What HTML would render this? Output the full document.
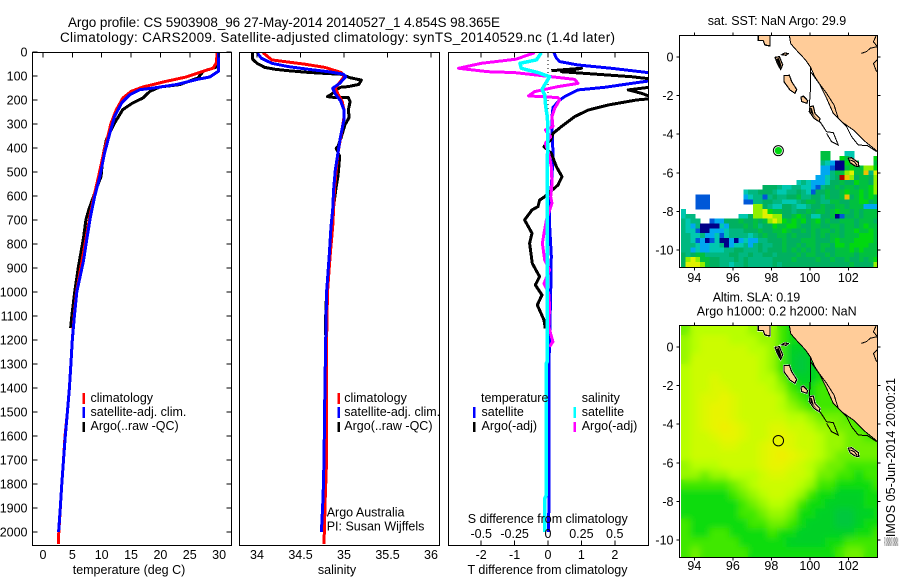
<!DOCTYPE html>
<html lang="en">
<head>
<meta charset="utf-8">
<title>Argo profile CS 5903908_96</title>
<style>
html,body{margin:0;padding:0;background:#fff;width:900px;height:580px;overflow:hidden}
svg{display:block}
text{font-family:"Liberation Sans",sans-serif;font-size:12.5px;fill:#000}
.t{font-size:13.5px}
</style>
</head>
<body>
<svg id="fig" xmlns="http://www.w3.org/2000/svg" width="900" height="580" viewBox="0 0 900 580">
<defs>
<clipPath id="cp1"><rect x="32.5" y="52.5" width="199" height="493"/></clipPath>
<clipPath id="cp2"><rect x="239.5" y="52.5" width="200" height="493"/></clipPath>
<clipPath id="cp3"><rect x="448.5" y="52.5" width="200" height="493"/></clipPath>
<clipPath id="cpm1"><rect x="679.5" y="35.5" width="198" height="232"/></clipPath>
<clipPath id="cpm2"><rect x="681" y="325.5" width="196.5" height="232"/></clipPath>
<filter id="slaSmooth" x="670" y="315" width="220" height="255" filterUnits="userSpaceOnUse"><feGaussianBlur stdDeviation="3.4"/></filter>
</defs>
<text class="t" x="68" y="27" textLength="432">Argo profile: CS 5903908_96 27-May-2014 20140527_1 4.854S 98.365E</text>
<text class="t" x="60" y="42" textLength="555">Climatology: CARS2009. Satellite-adjusted climatology: synTS_20140529.nc (1.4d later)</text>
<g id="p1"></g>
<g id="p2"></g>
<g id="p3"></g>
<g id="m1"></g>
<g id="m2"></g>

<g>
<rect x="82.5" y="393" width="2.5" height="11" fill="#f00"/>
<rect x="82.5" y="407" width="2.5" height="11" fill="#00f"/>
<rect x="82.5" y="422" width="2.5" height="10" fill="#000"/>
<text x="90.5" y="402">climatology</text>
<text x="90.5" y="416">satellite-adj. clim.</text>
<text x="90.5" y="430">Argo(..raw -QC)</text>
</g>
<g>
<rect x="337.5" y="393" width="2.5" height="11" fill="#f00"/>
<rect x="337.5" y="407" width="2.5" height="11" fill="#00f"/>
<rect x="337.5" y="422" width="2.5" height="10" fill="#000"/>
<text x="344.3" y="402">climatology</text>
<text x="344.3" y="416">satellite-adj. clim.</text>
<text x="344.3" y="430">Argo(..raw -QC)</text>
</g>
<text x="326.7" y="516.5">Argo Australia</text>
<text x="326.7" y="530.5">PI: Susan Wijffels</text>
<g>
<text x="481" y="402">temperature</text>
<text x="581.7" y="402">salinity</text>
<rect x="473" y="407" width="2.5" height="11" fill="#00f"/>
<rect x="473" y="422" width="2.5" height="10" fill="#000"/>
<rect x="573.5" y="407" width="2.5" height="11" fill="#0ff"/>
<rect x="573.5" y="422" width="2.5" height="10" fill="#f0f"/>
<text x="481.5" y="416">satellite</text>
<text x="481.5" y="430">Argo(-adj)</text>
<text x="581.7" y="416">satellite</text>
<text x="581.7" y="430">Argo(-adj)</text>
</g>
<text x="467.7" y="523" textLength="160">S difference from climatology</text>
<text x="467.5" y="574" textLength="160">T difference from climatology</text>
<text x="129" y="574" text-anchor="middle">temperature (deg C)</text>
<text x="337" y="574" text-anchor="middle">salinity</text>
<text x="707.7" y="25" textLength="138.5">sat. SST: NaN Argo: 29.9</text>
<text x="712.7" y="301.5" textLength="87.5">Altim. SLA: 0.19</text>
<text x="696.7" y="315.5" textLength="160">Argo h1000: 0.2 h2000: NaN</text>
<text transform="translate(895 546) rotate(-90)" style="font-family:'Liberation Sans','DejaVu Sans',sans-serif" textLength="168">▒IMOS 05-Jun-2014 20:00:21</text>
</svg>
<script>
// ---- profile data: depth (dbar) and values ----
const depthTicks = [0,100,200,300,400,500,600,700,800,900,1000,1100,1200,1300,1400,1500,1600,1700,1800,1900,2000];
const tempTicks = [0,5,10,15,20,25,30];
const salTicks = [34,34.5,35,35.5,36];
const salTickLabels = ['34','34.5','35','35.5','36'];
const tDiffTicks = [-2,-1,0,1,2];
const sDiffTicks = [-0.5,-0.25,0,0.25,0.5];
const sDiffLabels = ['-0.5','-0.25','0','0.25','0.5'];

const climTempDepth = [0,46,67,85,104,122,146,164,192,240,296,365,435,525,588,671,754,850,1000,1100,1200,1300,1400,1500,1600,1700,1800,1900,2000,2050];
const climTemp = [29.7,29.5,29,26.7,24.4,21,17,15,13.6,12.5,11.6,10.9,10.2,9.4,8.8,8.1,7.5,6.8,5.7,5.3,5.0,4.75,4.5,4.15,3.75,3.5,3.2,2.95,2.7,2.6];
const satTempDepth = [0,80,104,115,136,150,157,178,212,268,337,420,518,601,685,775,870,1000,1100,1200,1300,1400,1500,1600,1700,1800,1900,2000];
const satTemp = [29.9,29.9,28.4,26.1,22.7,18.8,16.5,14.8,13.4,12.2,11.4,10.5,9.7,8.8,8.1,7.5,6.9,5.75,5.35,5.0,4.75,4.5,4.15,3.8,3.5,3.2,2.95,2.65];
const argoTempDepth = [0,60,67,80,108,136,146,164,192,212,240,296,365,435,518,588,657,699,775,900,1000,1100,1150];
const argoTemp = [29.8,29.8,29,27.3,26.4,23.3,19.9,18.2,17,15.3,13.6,12.2,10.8,10.2,9.9,8.8,7.8,7.3,6.9,6.0,5.4,4.9,4.7];

const argoSalDepth = [3,30,47,64,72,78,85,89,93,107,117,135,144,147,158,175,186,190,190,207,242,272,304,353,394,401,436,478,519,561,617,644,728,850,1000,1100,1180];
const argoSal = [33.95,33.95,34.0,34.09,34.21,34.36,34.59,34.78,34.97,35.07,35.20,35.17,35.05,34.96,34.91,34.86,34.81,34.90,35.05,35.07,35.05,35.06,35.01,34.97,34.93,34.91,34.95,34.94,34.93,34.91,34.89,34.88,34.86,34.83,34.80,34.79,34.79];
const climSalDepth = [3,33,40,51,64,86,103,137,151,175,207,242,272,339,422,492,575,658,728,850,1000,1200,1400,1700,1850,2050];
const climSal = [34.07,34.17,34.32,34.55,34.78,34.97,35.0,34.93,34.90,34.93,34.98,35.0,35.0,34.97,34.93,34.91,34.89,34.88,34.87,34.84,34.81,34.80,34.80,34.80,34.785,34.77];
const satSalDepth = [3,26,47,61,72,82,92,103,131,151,175,203,242,283,353,422,492,575,658,728,850,1000,1200,1400,1700,1850,2000];
const satSal = [34.0,34.05,34.17,34.36,34.59,34.82,34.99,35.02,34.95,34.87,34.90,34.96,35.0,35.0,34.96,34.93,34.90,34.88,34.87,34.85,34.83,34.80,34.79,34.78,34.77,34.76,34.74];

const satDTDepth = [3,26,40,54,68,89,117,131,147,158,186,200,231,269,325,422,519,589,630,728,850,1000,1300,1600,2000];
const satDT = [.18,.25,.35,.9,1.9,3.2,3.2,2.5,1.7,.9,.5,.35,.15,.12,.12,.15,.12,.08,.05,.05,.1,.08,.03,.03,.02];
const argoDTDepth = [78,68,82,92,103,114,144,158,172,193,200,221,242,269,311,339,367,394,422,478,519,554,603,617,644,658,700,755,797,881,936,971,1012,1054,1117,1152];
const argoDT = [.1,1,.4,1.4,2.5,3.2,3.2,2.4,2.8,3.2,2.65,1.8,1.2,.8,.4,.15,.08,-.12,.1,.25,.42,.3,-.1,-.25,-.3,-.48,-.7,-.48,-.55,-.47,-.25,-.38,-.18,-.32,-.12,-.08];
const argoDSDepth = [3,30,47,68,82,86,103,114,131,144,165,183,190,200,235,269,311,325,353,381,422,478,547,603,630,700,755,797,867,908,964,1005,1061,1144,1207,1228];
const argoDS = [-.1,-.24,-.5,-.67,-.45,-.25,.025,.2,.225,.075,-.1,-.145,.075,.087,.05,.03,.037,-.02,.02,-.02,.005,.025,.03,.02,.03,-.012,-.03,-.042,-.025,.012,-.03,.005,.012,.005,.037,.012];
const satDSDepth = [3,33,47,68,86,103,137,155,179,228,269,325,464,742,1290,1300,1850,1860,2000];
const satDS = [-.05,-.087,-.21,-.2,-.075,.012,-.025,-.045,-.025,-.017,-.005,0,-.005,-.005,-.005,-.015,-.015,-.025,-.025];

// ---- map data ----
const lonTicks = [94,96,98,100,102];
const latTicks = [0,-2,-4,-6,-8,-10];
const argoLon = 98.365;
const argoLat = -4.854;

const sstPalette = ['none','#000088','#0058d8','#00a8f0','#00c8b0','#00b880','#00b060','#00c040','#00d810','#90f000','#e0f000','#f0c000','#b00000'];
// SST colour level per 0.25 degree cell, first row at 4.875S
const sstRows = [
[0,0,0,0,0,0,0,0,0,0,0,0,0,0,0,0,0,0,0,0,0,0,0,0,0,0,0,0,0,7,7,0,0,0,4,4,0,0,0,0,0],
[0,0,0,0,0,0,0,0,0,0,0,0,0,0,0,0,0,0,0,0,0,0,0,0,0,0,0,0,0,7,7,0,0,8,7,4,0,0,0,0,8],
[0,0,0,0,0,0,0,0,0,0,0,0,0,0,0,0,0,0,0,0,0,0,0,0,0,0,0,0,0,5,4,3,1,1,8,7,7,0,0,0,7],
[0,0,0,0,0,0,0,0,0,0,0,0,0,0,0,0,0,0,0,0,0,0,0,0,0,0,0,0,0,3,3,2,1,1,7,8,7,7,9,9,8],
[0,0,0,0,0,0,0,0,0,0,0,0,0,0,0,0,0,0,0,0,0,0,0,0,0,0,0,0,0,3,3,5,7,7,9,10,7,7,11,5,10],
[0,0,0,0,0,0,0,0,0,0,0,0,0,0,0,0,0,0,0,0,0,0,0,0,0,0,0,0,3,3,4,5,6,12,11,9,6,7,7,6,9],
[0,0,0,0,0,0,0,0,0,0,0,0,0,0,0,0,0,0,0,0,0,0,0,0,4,5,4,3,3,3,4,6,6,7,6,6,8,7,7,6,9],
[0,0,0,0,0,0,0,0,0,0,0,0,0,0,0,0,0,6,6,6,5,4,4,5,5,4,4,3,2,5,6,6,7,6,7,7,6,7,7,8,9],
[0,0,0,0,0,0,0,0,0,0,0,0,0,4,5,5,6,6,6,5,4,4,5,5,6,5,4,2,6,6,7,6,6,7,8,7,7,8,7,8,9],
[0,0,0,2,2,2,0,0,0,0,0,0,0,3,4,5,5,2,5,6,5,5,6,6,7,5,5,6,6,5,7,6,6,7,11,6,7,8,7,8,7],
[0,0,0,2,2,2,0,0,0,0,0,0,0,2,2,5,5,6,6,5,5,4,4,4,5,6,7,7,6,5,5,7,7,6,6,7,7,8,8,6,7],
[0,0,0,2,2,2,0,0,0,0,0,0,0,0,0,9,9,6,5,4,4,6,6,5,4,4,5,6,6,7,6,6,7,7,6,7,7,7,3,3,3],
[4,0,0,0,0,0,0,0,0,0,0,0,0,0,0,9,9,10,8,7,7,6,6,5,6,6,7,6,7,7,6,7,8,7,7,6,7,6,7,7,7],
[4,5,5,0,0,0,0,0,0,0,0,0,4,4,6,9,9,10,10,9,9,6,6,7,8,7,6,4,4,6,6,7,1,2,6,6,7,6,7,7,7],
[5,4,5,5,0,0,2,3,3,6,6,6,7,6,6,7,6,7,9,10,9,8,7,8,7,8,6,7,8,6,7,6,6,7,7,7,6,7,7,7,6],
[5,4,3,5,1,1,1,1,4,3,6,6,6,7,6,7,5,6,6,8,7,7,8,8,7,6,6,7,7,6,6,7,7,6,7,7,6,7,8,7,7],
[5,4,4,2,1,1,3,3,3,4,5,5,5,6,6,6,7,6,6,7,7,8,7,6,6,7,6,7,6,7,7,6,7,6,7,7,8,7,7,8,7],
[5,5,4,4,5,3,3,4,2,4,5,5,5,5,4,5,6,7,6,6,7,7,6,7,6,6,6,7,6,7,6,7,7,6,7,7,7,8,8,8,7],
[5,5,4,2,3,1,2,4,1,1,3,1,3,4,3,3,5,5,6,6,6,7,6,6,6,7,7,7,6,6,6,7,8,7,7,7,8,8,8,8,7],
[5,5,5,4,3,3,4,4,5,1,3,4,4,5,3,5,6,5,5,6,6,7,6,6,7,6,7,7,6,7,7,6,8,8,7,8,8,8,8,7,7],
[5,5,3,4,3,3,4,4,4,5,5,6,6,5,5,5,6,5,6,6,6,7,6,7,6,7,6,7,6,7,6,6,7,7,7,8,7,8,7,7,7],
[6,5,6,7,7,5,5,5,5,5,6,6,5,5,6,5,5,6,6,5,6,6,6,6,7,6,7,7,6,6,7,6,7,7,7,7,6,7,7,7,7],
[6,9,10,9,7,7,6,6,5,5,5,6,5,6,5,5,5,5,5,6,6,6,6,7,6,6,6,6,7,6,6,7,6,6,7,6,6,7,6,7,8],
[6,10,10,10,9,7,6,6,5,5,4,5,5,6,5,5,5,5,5,6,5,6,6,6,6,6,6,6,6,6,6,6,6,6,6,7,6,6,6,6,9]
];

const slaPalette = ['#00c83c','#00d028','#10dc10','#40e800','#70f000','#98f800','#b8ff00','#ccfc00','#dcf800','#e8f400','#f0ee00'];
// SLA colour level per 0.5 degree cell, first row at 1.125N
const slaRows = [
[4,6,6,6,6,6,6,5,5,5,3,2,1,1,1,1,1,1,1,1,1],
[5,6,7,7,7,6,6,6,5,5,3,2,2,2,2,1,1,1,1,1,1],
[5,6,7,7,7,7,7,6,6,5,3,1,1,1,1,1,1,1,1,1,1],
[5,7,7,7,7,7,7,7,6,5,3,1,0,1,2,2,1,1,1,1,1],
[6,7,7,7,7,7,7,7,6,5,3,1,0,1,2,3,3,1,1,1,1],
[6,7,7,8,7,7,7,7,6,6,4,2,1,1,2,3,3,2,1,1,1],
[6,7,7,8,8,7,7,7,7,6,5,3,2,2,3,3,3,2,1,1,1],
[6,7,8,8,9,8,7,7,7,7,6,4,3,2,3,3,3,3,2,1,1],
[6,7,8,9,9,8,7,7,7,7,6,5,4,3,3,3,3,3,3,2,1],
[6,7,8,9,9,8,7,7,7,7,7,6,6,5,4,4,4,3,3,3,2],
[6,7,8,9,10,9,8,7,7,8,8,7,7,6,5,5,4,4,3,3,3],
[6,7,7,8,9,9,8,7,7,8,9,8,7,7,6,5,5,4,4,3,3],
[6,7,7,7,8,8,7,7,8,9,9,8,7,7,6,5,5,4,4,4,4],
[6,7,7,7,7,7,7,7,8,9,10,9,8,7,6,5,4,4,4,4,4],
[5,6,6,6,7,7,7,7,8,9,9,8,7,6,5,4,4,3,3,3,3],
[5,5,4,5,5,6,6,6,7,8,8,7,7,6,4,4,3,3,2,3,3],
[3,3,3,3,3,4,5,6,7,7,7,7,6,5,3,3,2,2,2,2,3],
[2,2,2,2,2,3,4,5,6,7,7,6,5,3,2,2,1,1,1,2,2],
[2,2,2,2,2,2,3,4,5,6,6,5,3,2,2,1,1,1,1,2,2],
[2,2,2,2,2,2,3,3,4,5,5,4,2,2,1,1,0,0,1,1,2],
[3,2,2,2,2,2,2,3,3,4,4,3,2,1,1,1,0,0,1,2,2],
[3,2,2,3,3,2,2,2,2,3,2,2,1,1,1,1,1,1,2,2,3],
[3,3,3,3,3,3,2,2,2,2,2,1,1,1,1,2,2,3,3,3,3],
[3,4,3,3,3,3,3,2,2,2,2,2,2,2,2,2,3,4,4,3,3]
];

// coastlines in [lon, lat]
const mainland = [[98.94,1.3],[98.94,1.12],[99.0,.71],[99.14,.535],[99.4,.25],[99.78,-.155],[100.04,-.535],[100.25,-1],[100.53,-1.45],[100.87,-2.14],[101.22,-2.92],[101.65,-3.35],[102.26,-3.78],[102.78,-4.3],[103.52,-4.9],[103.9,-4.9],[103.9,1.3]];
const islands = [
[[97.32,1.3],[97.32,.85],[97.58,.85],[97.67,.62],[97.93,.57],[97.93,1.3]],
[[98.54,.12],[98.71,.21],[98.87,.17],[98.76,.09]],
[[98.19,-.02],[98.42,.02],[98.59,-.41],[98.48,-.64],[98.31,-.33]],
[[98.66,-.97],[98.94,-.95],[99.06,-1.28],[99.32,-1.68],[99.23,-1.88],[98.97,-1.71],[98.66,-1.28]],
[[99.54,-2.09],[99.66,-2.02],[99.89,-2.26],[99.84,-2.4],[99.58,-2.31]],
[[100.01,-2.57],[100.18,-2.54],[100.27,-2.92],[100.53,-3.18],[100.49,-3.35],[100.22,-3.18],[99.97,-2.83]],
[[102.0,-5.25],[102.17,-5.22],[102.52,-5.47],[102.55,-5.68],[102.35,-5.65],[102.09,-5.47]]
];
const darkIslands = [
[[98.25,-.1],[98.4,-.05],[98.52,-.42],[98.46,-.6],[98.34,-.32]],
[[100.02,-2.65],[100.1,-2.65],[100.2,-3.0],[100.4,-3.25],[100.25,-3.1],[100.03,-2.85]]
];
const coastLines = [
[[100.04,-.535],[100.04,-1.54],[99.97,-2.57]],
[[100.04,-.76],[100.35,-1.19],[100.87,-1.88],[101.26,-2.49],[101.48,-3.18],[101.91,-3.61],[102.17,-4.13],[102.52,-4.56],[102.99,-4.59],[103.47,-4.9]],
[[100.53,-3.35],[100.87,-3.87],[101.22,-3.92],[101.48,-4.56],[101.13,-4.39],[100.87,-3.96]],
[[103.44,1.09],[103.3,.79],[103.51,.54],[103.13,.45],[102.95,.28],[102.69,.19]],
[[103.52,-.12],[103.3,-.33],[103.47,-.76]],
[[102.1,-5.33],[102.3,-5.42],[102.45,-5.6]]
];

// ---- axis functions ----
function yDepth(d){return 52+d*0.24;}
function xTemp(t){return 43+t*5.87;}
function xSal(s){return 257+(s-34)*87;}
function xDT(t){return 548+t*33.4;}
function xDS(s){return 548+s*133.5;}
function xLon(l){return 694.33+(l-94)*19.25;}
function yLat(l,y0){return y0-l*19.3;}

const NS='http://www.w3.org/2000/svg';
function mk(tag,attrs,parent){
  const e=document.createElementNS(NS,tag);
  for(const k in attrs)e.setAttribute(k,attrs[k]);
  parent.appendChild(e);
  return e;
}
function tick(parent,x1,y1,x2,y2){
  const el=mk('line',{x1:x1,y1:y1,x2:x2,y2:y2,stroke:'#000','stroke-width':1,'shape-rendering':'crispEdges'},parent);
  
  
}
function label(parent,x,y,txt,anchor){
  const el=mk('text',{x:x,y:y,'text-anchor':anchor},parent);
  el.textContent=txt;
  
  
}
function frame(parent,x,y,w,h){
  const el=mk('rect',{x:x,y:y,width:w,height:h,fill:'none',stroke:'#000','stroke-width':1,'shape-rendering':'crispEdges'},parent);
  
  
}
function profile(parent,clip,vals,depths,xf,color,width,name){
  const pts=vals.map((v,i)=>xf(v).toFixed(1)+','+yDepth(depths[i]).toFixed(1)).join(' ');
  const el=mk('polyline',{points:pts,fill:'none',stroke:color,'stroke-width':width,'stroke-linejoin':'round','clip-path':'url(#'+clip+')','shape-rendering':'crispEdges'},parent);
  
  
}

// ---- temperature panel ----
const p1=document.getElementById('p1');
profile(p1,'cp1',argoTemp,argoTempDepth,xTemp,'#000',3,'argo-temperature-line');
profile(p1,'cp1',climTemp,climTempDepth,xTemp,'#f00',3,'climatology-temperature-line');
profile(p1,'cp1',satTemp,satTempDepth,xTemp,'#00f',3,'satellite-temperature-line');
frame(p1,32.5,52.5,199,493);
depthTicks.forEach(d=>{
  tick(p1,32.5,yDepth(d),37.5,yDepth(d));
  tick(p1,231.5,yDepth(d),226.5,yDepth(d));
  label(p1,27.5,yDepth(d)+4.5,String(d),'end');
});
tempTicks.forEach(t=>{
  tick(p1,xTemp(t),52.5,xTemp(t),57.5);
  label(p1,xTemp(t),559,String(t),'middle');
});

// ---- salinity panel ----
const p2=document.getElementById('p2');
profile(p2,'cp2',argoSal,argoSalDepth,xSal,'#000',3,'argo-salinity-line');
profile(p2,'cp2',climSal,climSalDepth,xSal,'#f00',3,'climatology-salinity-line');
profile(p2,'cp2',satSal,satSalDepth,xSal,'#00f',3,'satellite-salinity-line');
frame(p2,239.5,52.5,200,493);
salTicks.forEach((s,i)=>{
  tick(p2,xSal(s),52.5,xSal(s),57.5);
  label(p2,xSal(s),559,salTickLabels[i],'middle');
});

// ---- difference panel ----
const p3=document.getElementById('p3');
const zeroLine=mk('line',{x1:548,y1:yDepth(0),x2:548,y2:yDepth(2000),stroke:'#000','stroke-width':1,'stroke-dasharray':'1 3','shape-rendering':'crispEdges'},p3);


profile(p3,'cp3',satDT,satDTDepth,xDT,'#00f',3,'satellite-t-difference-line');
profile(p3,'cp3',argoDT,argoDTDepth,xDT,'#000',3,'argo-t-difference-line');
profile(p3,'cp3',argoDS,argoDSDepth,xDS,'#f0f',3,'argo-s-difference-line');
profile(p3,'cp3',satDS,satDSDepth,xDS,'#0ff',3.5,'satellite-s-difference-line');
frame(p3,448.5,52.5,200,493);
tDiffTicks.forEach(t=>{
  tick(p3,xDT(t),52.5,xDT(t),57.5);
  tick(p3,xDT(t),545.5,xDT(t),540.5);
  label(p3,xDT(t),559,String(t),'middle');
});
sDiffTicks.forEach((s,i)=>{
  label(p3,xDS(s),538,sDiffLabels[i],'middle');
});

// ---- maps ----
function drawCoast(g,y0,halo){
  const toPts=a=>a.map(p=>xLon(p[0]).toFixed(1)+','+yLat(p[1],y0).toFixed(1)).join(' ');
  if(halo){
    islands.forEach(isl=>{
      const el=mk('polygon',{points:toPts(isl),fill:'#fff',stroke:'#fff','stroke-width':2},g);
      
      
    });
  }
  const land=mk('polygon',{points:toPts(mainland),fill:'#ffcc99',stroke:'#000','stroke-width':1,'shape-rendering':'crispEdges'},g);
  
  
  islands.forEach(isl=>{
    const el=mk('polygon',{points:toPts(isl),fill:'#ffcc99',stroke:'#000','stroke-width':1.2,'shape-rendering':'crispEdges'},g);
    
    
  });
  darkIslands.forEach(isl=>{
    const el=mk('polygon',{points:toPts(isl),fill:'#000'},g);
    
    
  });
  coastLines.forEach(l=>{
    const el=mk('polyline',{points:toPts(l),fill:'none',stroke:'#000','stroke-width':1,'shape-rendering':'crispEdges'},g);
    
    
  });
}
function mapAxes(g,top,y0,labelY){
  frame(g,679.5,top,198,232);
  lonTicks.forEach(l=>{
    tick(g,xLon(l),top,xLon(l),top-3);
    tick(g,xLon(l),top+232,xLon(l),top+235);
    label(g,xLon(l),labelY,String(l),'middle');
  });
  latTicks.forEach(l=>{
    tick(g,679.5,yLat(l,y0),676.5,yLat(l,y0));
    tick(g,877.5,yLat(l,y0),880.5,yLat(l,y0));
    label(g,673.5,yLat(l,y0)+4.5,String(l),'end');
  });
}

const m1=document.getElementById('m1');
const m1Cells=mk('g',{'clip-path':'url(#cpm1)','shape-rendering':'crispEdges'},m1);


sstRows.forEach((row,r)=>{
  row.forEach((v,c)=>{
    if(!v)return;
    const x0=xLon(93.3+c*0.25),x1=xLon(93.3+(c+1)*0.25);
    const y0=yLat(-4.875-r*0.25,57),y1=yLat(-4.875-(r+1)*0.25,57);
    const cell=mk('rect',{x:x0,y:y0,width:x1-x0+0.3,height:y1-y0+0.3,fill:sstPalette[v]},m1Cells);
    
    
  });
});
const m1Coast=mk('g',{'clip-path':'url(#cpm1)'},m1);


drawCoast(m1Coast,57,false);
const ring1=mk('circle',{cx:xLon(argoLon),cy:yLat(argoLat,57),r:5,fill:'#fff',stroke:'#000','stroke-width':1},m1);


const dot1=mk('circle',{cx:xLon(argoLon),cy:yLat(argoLat,57),r:3.7,fill:'#00d810'},m1);


mapAxes(m1,35.5,57,282);

const m2=document.getElementById('m2');
const m2Clip=mk('g',{'clip-path':'url(#cpm2)'},m2);


const m2Cells=mk('g',{id:'slaCells','shape-rendering':'crispEdges'},m2Clip);


slaRows.forEach((row,r)=>{
  row.forEach((v,c)=>{
    const x0=xLon(93.3+c*0.5),x1=xLon(93.3+(c+1)*0.5);
    const y0=yLat(1.125-r*0.5,347),y1=yLat(1.125-(r+1)*0.5,347);
    const cell=mk('rect',{x:x0,y:y0,width:x1-x0+0.3,height:y1-y0+0.3,fill:slaPalette[v]},m2Cells);
    
    
  });
});
const m2Smooth=mk('use',{href:'#slaCells',filter:'url(#slaSmooth)'},m2Clip);


const m2Coast=mk('g',{'clip-path':'url(#cpm2)'},m2);


drawCoast(m2Coast,347,true);
const ring2=mk('circle',{cx:xLon(argoLon),cy:yLat(argoLat,347),r:5.2,fill:'none',stroke:'#000','stroke-width':1},m2);


mapAxes(m2,325.5,347,570);
</script>
</body>
</html>
